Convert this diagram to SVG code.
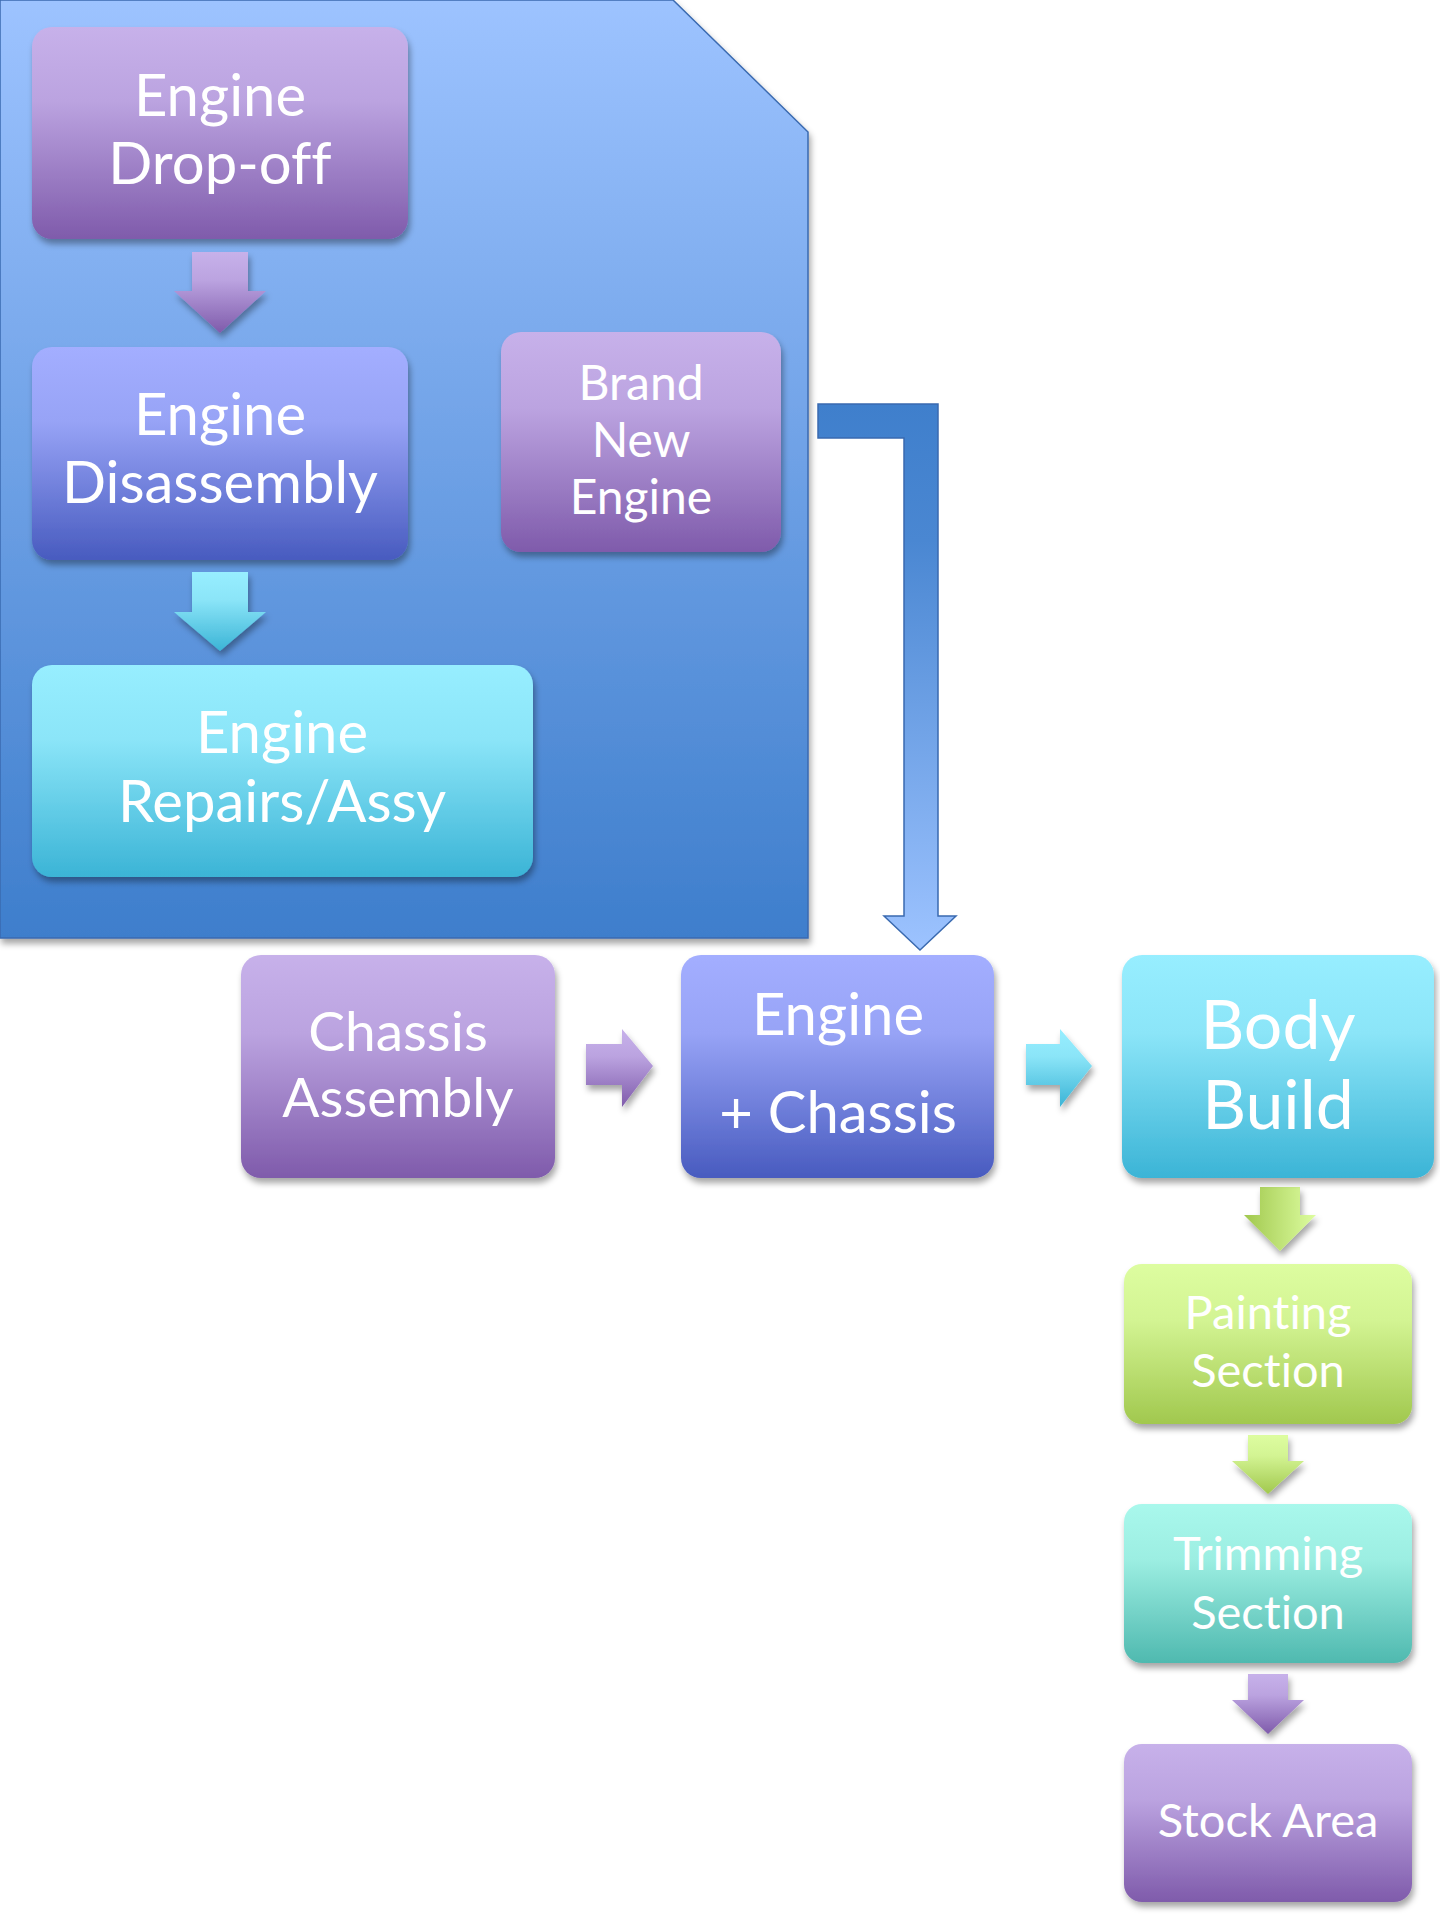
<svg xmlns="http://www.w3.org/2000/svg" width="1440" height="1920" viewBox="0 0 1440 1920">
<defs>
  <linearGradient id="gPanel" x1="0" y1="0" x2="0" y2="1">
    <stop offset="0" stop-color="#9DC3FF"/>
    <stop offset="1" stop-color="#3E7ECC"/>
  </linearGradient>
  <linearGradient id="gPurple" x1="0" y1="0" x2="0" y2="1">
    <stop offset="0" stop-color="#C7B1EA"/>
    <stop offset="0.35" stop-color="#BBA3E0"/>
    <stop offset="1" stop-color="#7F5BAB"/>
  </linearGradient>
  <linearGradient id="gBlue" x1="0" y1="0" x2="0" y2="1">
    <stop offset="0" stop-color="#A3AEFF"/>
    <stop offset="0.35" stop-color="#97A3F6"/>
    <stop offset="1" stop-color="#485BBF"/>
  </linearGradient>
  <linearGradient id="gCyan" x1="0" y1="0" x2="0" y2="1">
    <stop offset="0" stop-color="#97EEFF"/>
    <stop offset="0.35" stop-color="#8BE5F8"/>
    <stop offset="1" stop-color="#3BB4D6"/>
  </linearGradient>
  <linearGradient id="gGreen" x1="0" y1="0" x2="0" y2="1">
    <stop offset="0" stop-color="#DDFDA0"/>
    <stop offset="0.35" stop-color="#D3F493"/>
    <stop offset="1" stop-color="#A1C84E"/>
  </linearGradient>
  <linearGradient id="gGreenH" x1="0" y1="0" x2="1" y2="0">
    <stop offset="0" stop-color="#A1C84E"/>
    <stop offset="1" stop-color="#DDFDA0"/>
  </linearGradient>
  <linearGradient id="gTeal" x1="0" y1="0" x2="0" y2="1">
    <stop offset="0" stop-color="#A9F8EC"/>
    <stop offset="0.35" stop-color="#9CEEE2"/>
    <stop offset="1" stop-color="#4FB9AF"/>
  </linearGradient>
  <linearGradient id="gBent" gradientUnits="userSpaceOnUse" x1="0" y1="404" x2="0" y2="950">
    <stop offset="0" stop-color="#3F7FCC"/>
    <stop offset="0.25" stop-color="#4A87D2"/>
    <stop offset="1" stop-color="#9DC3FF"/>
  </linearGradient>
  <filter id="sh" x="-10%" y="-10%" width="125%" height="130%">
    <feDropShadow dx="2" dy="5" stdDeviation="3" flood-color="#000" flood-opacity="0.35"/>
  </filter>
</defs>
<style>
  .t { font-family: Lato, "Open Sans", "Noto Sans", sans-serif; fill: #ffffff; text-anchor: middle; font-variant-ligatures: none; }
  .f56 { font-size: 58px; }
  .f54 { font-size: 55px; }
  .f48 { font-size: 48px; }
  .f47 { font-size: 47px; }
  .f68 { font-size: 68px; }
  .box { filter: url(#sh); }
</style>

<g id="panel">
  <path d="M0,0 L673,0 L808,132 L808,938 L0,938 Z" fill="url(#gPanel)" stroke="#3A6AB0" stroke-width="1.5" filter="url(#sh)"/>
</g>

<g id="connectors">
  <polygon points="192,252 248,252 248,291 266,291 220,333 174,291 192,291" fill="url(#gPurple)" class="box"/>
  <polygon points="192,572 248,572 248,612 266,612 220,651 174,612 192,612" fill="url(#gCyan)" class="box"/>
  <path d="M818,404 L938,404 L938,916 L956,916 L920,950 L884,916 L904,916 L904,438 L818,438 Z" fill="url(#gBent)" stroke="#3A6AB0" stroke-width="1.5"/>
  <polygon points="586,1044 622,1044 622,1029 653,1066 622,1107 622,1085 586,1085" fill="url(#gPurple)" class="box"/>
  <polygon points="1026,1044 1060,1044 1060,1029 1092,1066 1060,1107 1060,1085 1026,1085" fill="url(#gCyan)" class="box"/>
  <polygon points="1260,1187 1300,1187 1300,1215 1316,1215 1280,1251 1244,1215 1260,1215" fill="url(#gGreenH)" class="box"/>
  <polygon points="1248,1435 1288,1435 1288,1461 1304,1461 1268,1494 1232,1461 1248,1461" fill="url(#gGreen)" class="box"/>
  <polygon points="1248,1674 1288,1674 1288,1700 1304,1700 1268,1734 1232,1700 1248,1700" fill="url(#gPurple)" class="box"/>
</g>

<g id="engine-drop-off">
  <rect class="box" x="32" y="27" width="376" height="212" rx="20" fill="url(#gPurple)"/>
  <text class="t f56" x="220" y="116">Engine</text>
  <text class="t f56" x="220" y="184">Drop-off</text>
</g>

<g id="engine-disassembly">
  <rect class="box" x="32" y="347" width="376" height="213" rx="20" fill="url(#gBlue)"/>
  <text class="t f56" x="220" y="435">Engine</text>
  <text class="t f56" x="220" y="503">Disassembly</text>
</g>

<g id="engine-repairs">
  <rect class="box" x="32" y="665" width="501" height="212" rx="20" fill="url(#gCyan)"/>
  <text class="t f56" x="282" y="753">Engine</text>
  <text class="t f56" x="282" y="822">Repairs/Assy</text>
</g>

<g id="brand-new-engine">
  <rect class="box" x="501" y="332" width="280" height="220" rx="20" fill="url(#gPurple)"/>
  <text class="t f48" x="641" y="400">Brand</text>
  <text class="t f48" x="641" y="457">New</text>
  <text class="t f48" x="641" y="514">Engine</text>
</g>

<g id="chassis-assembly">
  <rect class="box" x="241" y="955" width="314" height="223" rx="20" fill="url(#gPurple)"/>
  <text class="t f54" x="398" y="1051">Chassis</text>
  <text class="t f54" x="398" y="1117">Assembly</text>
</g>

<g id="engine-chassis">
  <rect class="box" x="681" y="955" width="313" height="223" rx="20" fill="url(#gBlue)"/>
  <text class="t f56" x="838" y="1035">Engine</text>
  <text class="t f56" x="838" y="1133">+ Chassis</text>
</g>

<g id="body-build">
  <rect class="box" x="1122" y="955" width="312" height="223" rx="20" fill="url(#gCyan)"/>
  <text class="t f68" x="1278" y="1049">Body</text>
  <text class="t f68" x="1278" y="1129">Build</text>
</g>

<g id="painting-section">
  <rect class="box" x="1124" y="1264" width="288" height="160" rx="18" fill="url(#gGreen)"/>
  <text class="t f47" x="1268" y="1329">Painting</text>
  <text class="t f47" x="1268" y="1387">Section</text>
</g>

<g id="trimming-section">
  <rect class="box" x="1124" y="1504" width="288" height="159" rx="18" fill="url(#gTeal)"/>
  <text class="t f47" x="1268" y="1570">Trimming</text>
  <text class="t f47" x="1268" y="1629">Section</text>
</g>

<g id="stock-area">
  <rect class="box" x="1124" y="1744" width="288" height="158" rx="18" fill="url(#gPurple)"/>
  <text class="t f47" x="1268" y="1837">Stock Area</text>
</g>
</svg>
